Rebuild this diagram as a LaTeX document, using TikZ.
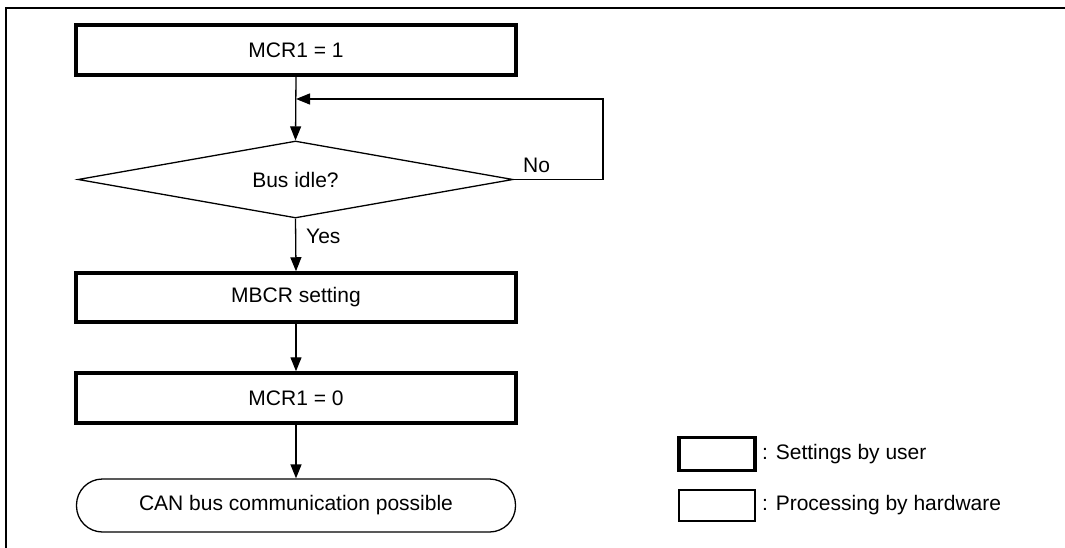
\documentclass[tikz,border=0pt]{standalone}
\usepackage{fontspec}
\setmainfont{Liberation Sans}
\usetikzlibrary{shapes.geometric,arrows.meta}
\begin{document}
\begin{tikzpicture}[x=1pt,y=-1pt,
  every node/.style={font=\fontsize{21}{25}\selectfont},
  userbox/.style={draw,line width=3.5pt,minimum width=440pt,inner sep=0pt},
  hwbox/.style={draw,line width=1.3pt,inner sep=0pt},
  arr/.style={line width=1.3pt,-{Triangle[length=14pt,width=11pt]}},
  conn/.style={line width=1.3pt}]
\useasboundingbox (0,0) rectangle (1065,548);
\draw[line width=2.5pt] (6,548) -- (6,8) -- (1065,8);
\node[userbox,minimum height=50pt] (m1) at (296,50) {MCR1 = 1};
\node[hwbox,diamond,minimum width=435pt,minimum height=77pt,aspect=5.65] (d) at (295.5,179.5) {Bus idle?};
\node[userbox,minimum height=49pt] (mb) at (296,297.5) {MBCR setting};
\node[userbox,minimum height=50pt] (m0) at (296,398) {MCR1 = 0};
\node[hwbox,rounded corners=26pt,minimum width=439pt,minimum height=53pt] (t) at (296,505.5) {CAN bus communication possible};
\coordinate (j) at (m1.south |- 0,99);
\coordinate (r1) at (603,179.5);
\coordinate (r2) at (603,99);
\draw[arr] (m1.south) -- (d.north);
\draw[arr] (d.east) -- (r1) -- (r2) -- (j);
\node[anchor=base west,inner sep=0pt] (no) at (523,173) {No};
\draw[arr] (d.south) -- (mb.north);
\node[anchor=base west,inner sep=0pt] (yes) at (306,243) {Yes};
\draw[arr] (mb.south) -- (m0.north);
\draw[arr] (m0.south) -- (t.north);
\node[draw,line width=3.5pt,minimum width=76pt,minimum height=33pt,inner sep=0pt] (lu) at (717,454) {};
\node[anchor=west,inner sep=0pt] (lut) at (762,454) {: Settings by user};
\node[hwbox,minimum width=76pt,minimum height=31pt] (lh) at (717,505.5) {};
\node[anchor=west,inner sep=0pt] (lht) at (762,505.5) {: Processing by hardware};
\end{tikzpicture}
\end{document}
